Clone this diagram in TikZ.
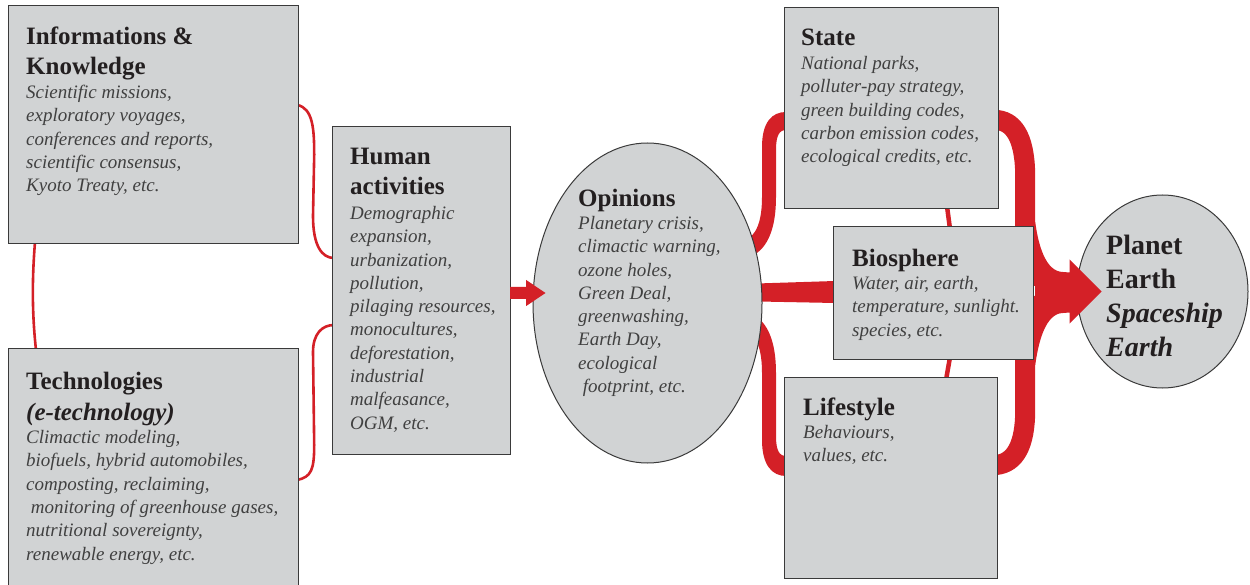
\documentclass[tikz,border=0pt]{standalone}
\usepackage{fontspec}
\setmainfont{Liberation Serif}
\usetikzlibrary{shapes.geometric,calc,arrows.meta}
\pgfdeclarelayer{bg}
\pgfsetlayers{bg,main}
\definecolor{boxgray}{HTML}{D1D3D4}
\definecolor{edgegray}{HTML}{3A3A3A}
\definecolor{flowred}{HTML}{D42027}
\definecolor{titlecol}{HTML}{231F20}
\definecolor{bodycol}{HTML}{404040}
\begin{document}
\begin{tikzpicture}[x=1pt,y=-1pt,
  box/.style={draw=edgegray, line width=1.2pt, fill=boxgray, rectangle, inner sep=0pt, anchor=north west},
  oval/.style={draw=edgegray, line width=1pt, fill=boxgray, ellipse, inner sep=0pt},
  ttl/.style={anchor=base west, inner sep=0pt, text=titlecol, font=\fontsize{25}{30.5}\selectfont\bfseries},
  bigttl/.style={anchor=base west, inner sep=0pt, text=titlecol, font=\fontsize{28}{34}\selectfont\bfseries},
  bodytxt/.style={anchor=base west, inner sep=0pt, text=bodycol, font=\fontsize{19}{23.3}\selectfont\itshape},
  thinlink/.style={draw=flowred, line width=2.6pt},
  midlink/.style={draw=flowred, line width=4.5pt},
  wideband/.style={draw=flowred, line width=20pt},
  redfill/.style={fill=flowred, draw=none},
]
\useasboundingbox (0,0) rectangle (1250,585);

% boxes
\node[box, minimum width=290pt, minimum height=238pt] (info) at (8,5) {};
\node[box, minimum width=290pt, minimum height=250pt] (tech) at (8,348) {};
\node[box, minimum width=178pt, minimum height=328pt] (human) at (332,126) {};
\node[oval, minimum width=229pt, minimum height=320pt] (op) at (647.5,303) {};
\node[box, minimum width=214pt, minimum height=201pt] (state) at (784,7) {};
\node[box, minimum width=200pt, minimum height=133pt] (bio) at (833,226) {};
\node[box, minimum width=213pt, minimum height=201pt] (life) at (784,377) {};
\node[oval, minimum width=171pt, minimum height=193pt] (planet) at (1162.5,291.5) {};

% connectors behind
\begin{pgfonlayer}{bg}
\draw[thinlink] ($(info.south west)+(27,-2)$) .. controls ($(info.south west)+(24,35)$) and ($(tech.north west)+(24,-35)$) .. ($(tech.north west)+(28,2)$);
\draw[thinlink] ($(info.north east)+(-2,100)$) .. controls +(16,3) and +(0,-25) .. ($(info.north east)+(15,150)$) -- ($(human.north west)+(-19,90)$) .. controls +(0,30) and +(-12,0) .. ($(human.north west)+(2,132)$);
\draw[thinlink] ($(tech.north east)+(-2,132)$) .. controls +(14,-3) and +(0,25) .. ($(tech.north east)+(15,97)$) -- ($(human.north west)+(-19,226)$) .. controls +(0,-18) and +(-12,0) .. ($(human.north west)+(2,199)$);

% opinions -> state (tapered band)
\fill[redfill] ($(op.center)+(97.5,-63)$) .. controls +(11,-4) and +(0,25) .. ($(state.north west)+(-22,190)$) -- ($(state.north west)+(-22,140)$) .. controls +(0,-25) and +(-14,0) .. ($(state.north west)+(2,105)$) -- ($(state.north west)+(2,123)$) .. controls +(-7,0) and +(0,-14) .. ($(state.north west)+(-8,143)$) -- ($(state.north west)+(-8,190)$) .. controls +(0,31) and +(16,-8) .. ($(op.center)+(104.5,-47)$) -- cycle;
% opinions -> lifestyle (tapered band)
\fill[redfill] ($(op.center)+(97.5,27)$) .. controls +(11,4) and +(0,-25) .. ($(life.north west)+(-22,-4)$) -- ($(life.north west)+(-22,63)$) .. controls +(0,25) and +(-14,0) .. ($(life.north west)+(2,99)$) -- ($(life.north west)+(2,79)$) .. controls +(-7,0) and +(0,14) .. ($(life.north west)+(-8,59)$) -- ($(life.north west)+(-8,-4)$) .. controls +(0,-31) and +(16,8) .. ($(op.center)+(104.5,11)$) -- cycle;
% opinions -> biosphere
\fill[redfill] ($(bio.west)+(-95,-9)$) -- ($(bio.north west)+(2,55)$) -- ($(bio.north west)+(2,77)$) -- ($(bio.west)+(-95,8)$) -- cycle;

\draw[wideband] ($(state.north east)+(-2,113)$) .. controls +(19,2) and +(0,-35) .. ($(state.north east)+(26,170)$) -- ($(bio.north east)+(-9,60)$);
\draw[wideband] ($(life.north east)+(-2,88)$) .. controls +(19,-2) and +(0,35) .. ($(life.north east)+(27,33)$) -- ($(bio.north east)+(-9,70)$);

\draw[midlink] ($(state.south west)+(163,-3)$) -- ($(bio.north west)+(117,3)$);
\draw[midlink] ($(bio.south west)+(117,-3)$) -- ($(life.north west)+(162,3)$);
\end{pgfonlayer}

% arrows on top
\fill[redfill] ($(human.north east)+(-1,161)$) -- ($(human.north east)+(15,161)$) -- ($(human.north east)+(15,154)$) -- ($(op.west)+(13,-10)$) -- ($(human.north east)+(15,180)$) -- ($(human.north east)+(15,173)$) -- ($(human.north east)+(-1,173)$) -- cycle;
\fill[redfill] ($(bio.north east)+(1,-4)$) .. controls +(3,22) and +(-18,0) .. ($(bio.north east)+(29,46)$) -- ($(planet.west)+(-7,-19)$) -- ($(planet.west)+(-7,-32)$) -- ($(planet.west)+(25,0)$) -- ($(planet.west)+(-7,32)$) -- ($(planet.west)+(-7,21)$) -- ($(bio.north east)+(29,87)$) .. controls +(-18,0) and +(3,-22) .. ($(bio.south east)+(1,5)$) -- cycle;

% texts
\begin{scope}[yshift=-1.5pt]
\node[ttl] (info-t) at (26,43) {\begin{tabular}[t]{@{}l@{}}Informations \&\\Knowledge\end{tabular}};
\node[bodytxt] (info-b) at (26,97) {\begin{tabular}[t]{@{}l@{}}Scientific missions,\\exploratory voyages,\\conferences and reports,\\scientific consensus,\\Kyoto Treaty, etc.\end{tabular}};

\node[ttl] (tech-t) at (26,388) {\begin{tabular}[t]{@{}l@{}}Technologies\\\textit{(e-technology)}\end{tabular}};
\node[bodytxt] (tech-b) at (26,442) {\begin{tabular}[t]{@{}l@{}}Climactic modeling,\\biofuels, hybrid automobiles,\\composting, reclaiming,\\\ monitoring of greenhouse gases,\\nutritional sovereignty,\\renewable energy, etc.\end{tabular}};

\node[ttl] (human-t) at (350,163) {\begin{tabular}[t]{@{}l@{}}Human\\activities\end{tabular}};
\node[bodytxt] (human-b) at (350,218) {\begin{tabular}[t]{@{}l@{}}Demographic\\expansion,\\urbanization,\\pollution,\\pilaging resources,\\monocultures,\\deforestation,\\industrial\\malfeasance,\\OGM, etc.\end{tabular}};

\node[ttl] (op-t) at (578,205) {Opinions};
\node[bodytxt] (op-b) at (578,228) {\begin{tabular}[t]{@{}l@{}}Planetary crisis,\\climactic warning,\\ozone holes,\\Green Deal,\\greenwashing,\\Earth Day,\\ecological\\\ footprint, etc.\end{tabular}};

\node[ttl] (state-t) at (801,44) {State};
\node[bodytxt] (state-b) at (801,68) {\begin{tabular}[t]{@{}l@{}}National parks,\\polluter-pay strategy,\\green building codes,\\carbon emission codes,\\ecological credits, etc.\end{tabular}};

\node[ttl] (bio-t) at (852,265) {Biosphere};
\node[bodytxt] (bio-b) at (852,288) {\begin{tabular}[t]{@{}l@{}}Water, air, earth,\\temperature, sunlight.\\species, etc.\end{tabular}};

\node[ttl] (life-t) at (803,414) {Lifestyle};
\node[bodytxt] (life-b) at (803,437) {\begin{tabular}[t]{@{}l@{}}Behaviours,\\values, etc.\end{tabular}};

\node[bigttl] (planet-t) at (1106,253) {\begin{tabular}[t]{@{}l@{}}Planet\\Earth\\\textit{Spaceship}\\\textit{Earth}\end{tabular}};
\end{scope}
\end{tikzpicture}
\end{document}
